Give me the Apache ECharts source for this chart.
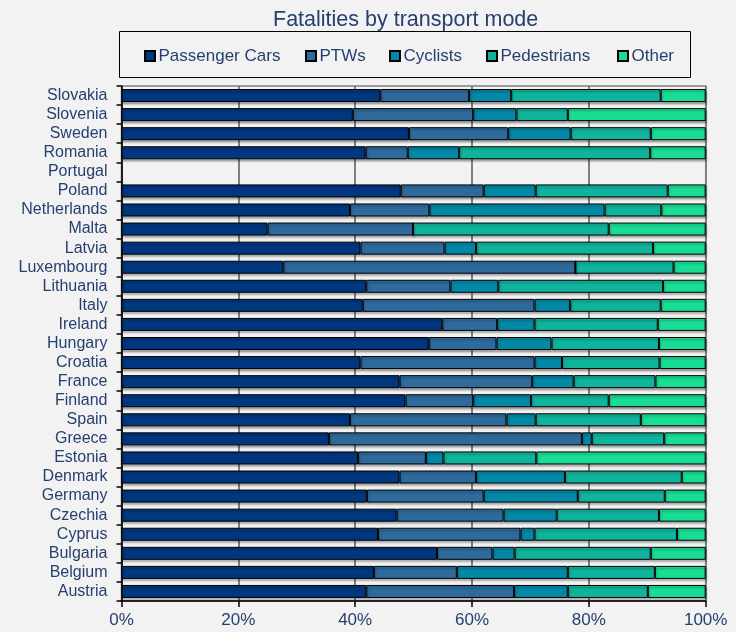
<!DOCTYPE html>
<html>
<head>
<meta charset="utf-8">
<script src="https://cdn.jsdelivr.net/npm/echarts@6/dist/echarts.min.js"></script>
<style>
html,body{margin:0;padding:0;background:#f2f2f2;}
#chart{width:736px;height:632px;}
</style>
</head>
<body>
<div id="chart"></div>
<script>
// Categories bottom to top
const countries = ['Austria','Belgium','Bulgaria','Cyprus','Czechia','Germany','Denmark','Estonia','Greece','Spain','Finland','France','Croatia','Hungary','Ireland','Italy','Lithuania','Luxembourg','Latvia','Malta','Netherlands','Poland','Portugal','Romania','Sweden','Slovenia','Slovakia'];
const seriesNames = ['Passenger Cars','PTWs','Cyclists','Pedestrians','Other'];
const passengerCars = [41.9,43.2,54.0,43.9,47.1,42.0,47.6,40.5,35.5,39.1,48.6,47.6,40.9,52.6,54.9,41.3,41.9,27.7,40.9,25.0,39.1,47.8,null,41.8,49.2,39.6,44.3];
const ptws          = [25.3,14.2, 9.5,24.4,18.3,20.0,13.1,11.6,43.3,26.8,11.6,22.7,29.8,11.6, 9.4,29.4,14.4,50.0,14.4,24.9,13.6,14.2,null, 7.2,17.0,20.6,15.2];
const cyclists      = [ 9.2,19.0, 3.8, 2.4, 9.1,16.1,15.2, 3.0, 1.7, 5.0, 9.9, 7.1, 4.7, 9.4, 6.4, 6.1, 8.2, 0.0, 5.4, 0.0,30.0, 8.9,null, 8.8,10.7, 7.4, 7.2];
const pedestrians   = [13.7,14.9,23.3,24.4,17.5,14.9,20.0,15.9,12.4,18.0,13.3,14.0,16.7,18.4,21.1,15.5,28.2,16.8,30.3,33.5, 9.7,22.6,null,32.7,13.7, 8.8,25.6];
const other         = [ 9.9, 8.7, 9.4, 4.9, 8.0, 7.0, 4.1,29.0, 7.1,11.1,16.6, 8.6, 7.9, 8.0, 8.2, 7.7, 7.3, 5.5, 9.0,16.6, 7.6, 6.5,null, 9.5, 9.4,23.6, 7.7];
const xTicks = [0,20,40,60,80,100];

const colors = ['#00377f','#2e6a9c','#0388a6','#10b39b','#19dd95'];
const values = [passengerCars, ptws, cyclists, pedestrians, other];
const textColor = '#263f6e';
const font = 'Liberation Sans, Arial, sans-serif';
const legendLeft = [144, 305, 389, 486, 617];

const chart = echarts.init(document.getElementById('chart'));
chart.setOption({
  backgroundColor: '#f2f2f2',
  animation: false,
  title: {
    text: 'Fatalities by transport mode',
    left: 268, top: 4,
    textStyle: {color: textColor, fontSize: 21.5, fontWeight: 'normal', fontFamily: font}
  },
  graphic: [{
    type: 'rect', shape: {x: 119.5, y: 31.5, width: 571, height: 46},
    style: {fill: 'none', stroke: '#000', lineWidth: 1}, z: 10
  }],
  legend: seriesNames.map((name, i) => ({
    data: [name],
    left: legendLeft[i], top: 47.5,
    padding: 0,
    itemWidth: 10, itemHeight: 10,
    icon: 'rect',
    textStyle: {color: textColor, fontSize: 17, fontFamily: font, padding: [0, 0, 0, -1.5]}
  })),
  grid: {
    left: 121.5, right: 30.3, top: 86, bottom: 31,
    show: true, borderColor: '#808080', borderWidth: 1.5, backgroundColor: 'transparent'
  },
  xAxis: {
    type: 'value', min: 0, max: 100, interval: 20,
    axisLine: {show: true, lineStyle: {color: '#000', width: 1.5}},
    axisTick: {show: true, length: 6, lineStyle: {color: '#000', width: 1.5}},
    axisLabel: {color: textColor, fontSize: 17, fontFamily: font, margin: 11, formatter: v => xTicks.includes(v) ? v + '%' : ''},
    splitLine: {show: true, lineStyle: {color: '#7f7f7f', width: 2}}
  },
  yAxis: {
    type: 'category', data: countries,
    axisLine: {show: true, lineStyle: {color: '#000', width: 1.5}},
    axisTick: {show: true, length: 5, interval: 0, lineStyle: {color: '#000', width: 1.5}},
    axisLabel: {color: textColor, fontSize: 16, fontFamily: font, margin: 14, interval: 0},
    splitLine: {show: false}
  },
  series: seriesNames.map((name, i) => ({
    name: name,
    type: 'bar',
    stack: 'total',
    barWidth: 13,
    data: values[i],
    itemStyle: {
      color: colors[i], borderColor: '#000', borderWidth: 1,
      shadowColor: 'rgba(0,0,0,0.3)', shadowOffsetX: 1, shadowOffsetY: 2, shadowBlur: 2
    }
  }))
});
</script>
</body>
</html>
